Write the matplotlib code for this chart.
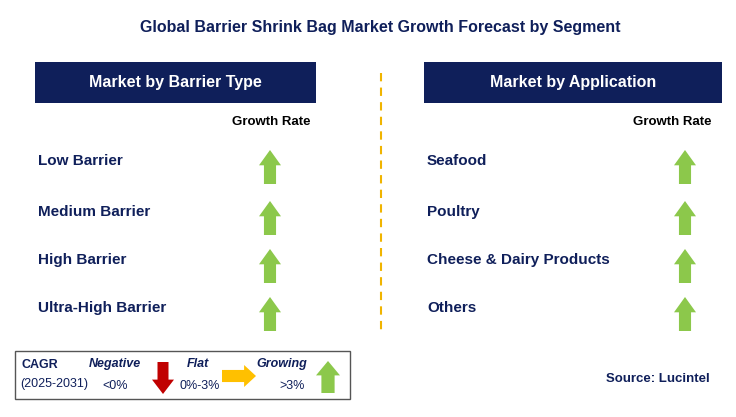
import matplotlib
matplotlib.use("Agg")
import matplotlib.pyplot as plt
from matplotlib.patches import Rectangle, Polygon

plt.rcParams["font.family"] = "Liberation Sans"

title = "Global Barrier Shrink Bag Market Growth Forecast by Segment"
left_header = "Market by Barrier Type"
right_header = "Market by Application"
left_items = ["Low Barrier", "Medium Barrier", "High Barrier", "Ultra-High Barrier"]
right_items = ["Seafood", "Poultry", "Cheese & Dairy Products", "Others"]
left_trend = ["up", "up", "up", "up"]
right_trend = ["up", "up", "up", "up"]
row_y = [161, 212, 260, 308]

NAVY = "#0f1f5a"
GREEN = "#8cc84b"
fig = plt.figure(figsize=(7.36, 4.17), dpi=100)
ax = fig.add_axes([0, 0, 1, 1])
ax.set_xlim(0, 736); ax.set_ylim(417, 0); ax.axis("off")

def up_arrow(cx, cy, w=22, h=34, color=GREEN):
    sw = w * 0.55
    pts = [(cx - w/2, cy - h/2 + h*0.45), (cx, cy - h/2), (cx + w/2, cy - h/2 + h*0.45),
           (cx + sw/2, cy - h/2 + h*0.45), (cx + sw/2, cy + h/2), (cx - sw/2, cy + h/2),
           (cx - sw/2, cy - h/2 + h*0.45)]
    ax.add_patch(Polygon(pts, closed=True, color=color, lw=0))

def down_arrow(cx, cy, w=22, h=34, color="#c00000"):
    sw = w * 0.5
    pts = [(cx - w/2, cy + h/2 - h*0.45), (cx, cy + h/2), (cx + w/2, cy + h/2 - h*0.45),
           (cx + sw/2, cy + h/2 - h*0.45), (cx + sw/2, cy - h/2), (cx - sw/2, cy - h/2),
           (cx - sw/2, cy + h/2 - h*0.45)]
    ax.add_patch(Polygon(pts, closed=True, color=color, lw=0))

def right_arrow(cx, cy, w=34, h=20, color="#ffc000"):
    sh = h * 0.55
    pts = [(cx + w/2, cy), (cx + w/2 - w*0.35, cy - h/2), (cx + w/2 - w*0.35, cy - sh/2),
           (cx - w/2, cy - sh/2), (cx - w/2, cy + sh/2), (cx + w/2 - w*0.35, cy + sh/2),
           (cx + w/2 - w*0.35, cy + h/2)]
    ax.add_patch(Polygon(pts, closed=True, color=color, lw=0))

ax.text(380, 27, title, ha="center", va="center", fontsize=11.5, fontweight="bold", color=NAVY)

for x0, x1, hdr, items, trend, gx, tx in [(35, 316, left_header, left_items, left_trend, 270, 271),
                                           (424, 722, right_header, right_items, right_trend, 685, 672)]:
    ax.add_patch(Rectangle((x0, 62), x1 - x0, 41, color=NAVY, lw=0))
    ax.text((x0 + x1) / 2, 82, hdr, ha="center", va="center", fontsize=11.5, fontweight="bold", color="white")
    ax.text(tx, 122, "Growth Rate", ha="center", va="center", fontsize=9.5, fontweight="bold", color="black")
    for y, it, t in zip(row_y, items, trend):
        ax.text(x0 + 3, y, it, ha="left", va="center", fontsize=11, fontweight="bold", color=NAVY)
        if t == "up":
            up_arrow(gx, y + 6)

ax.plot([381, 381], [73, 330], ls=(0, (4, 3)), color="#f0b400", lw=1.5)

ax.add_patch(Rectangle((15, 351), 335, 48, fill=False, ec="#555555", lw=1))
ax.text(22, 365, "CAGR", fontsize=9, fontweight="bold", color=NAVY, va="center")
ax.text(20, 384, "(2025-2031)", fontsize=9, color=NAVY, va="center")
ax.text(115, 364, "Negative", fontsize=9, fontweight="bold", style="italic", color=NAVY, ha="center", va="center")
ax.text(115, 386, "<0%", fontsize=9, color=NAVY, ha="center", va="center")
down_arrow(163, 378, w=22, h=32)
ax.text(198, 364, "Flat", fontsize=9, fontweight="bold", style="italic", color=NAVY, ha="center", va="center")
ax.text(200, 386, "0%-3%", fontsize=9, color=NAVY, ha="center", va="center")
right_arrow(239, 376, w=34, h=22)
ax.text(282, 364, "Growing", fontsize=9, fontweight="bold", style="italic", color=NAVY, ha="center", va="center")
ax.text(292, 386, ">3%", fontsize=9, color=NAVY, ha="center", va="center")
up_arrow(328, 377, w=24, h=32)

ax.text(710, 379, "Source: Lucintel", ha="right", va="center", fontsize=9.5, fontweight="bold", color=NAVY)

fig.savefig("out.png", dpi=100)
